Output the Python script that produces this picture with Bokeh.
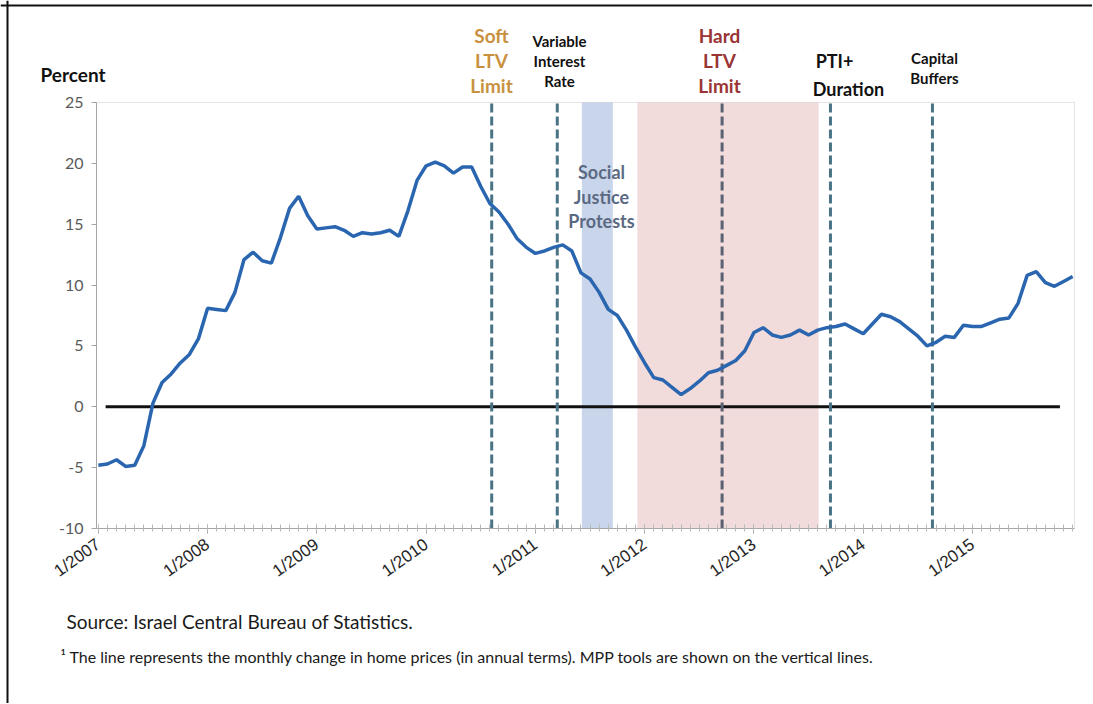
from bokeh.plotting import figure
from bokeh.models import FixedTicker, Range1d, Span, BoxAnnotation, Label
from bokeh.embed import file_html
from bokeh.resources import INLINE

# ---------------- data ----------------
months = [f"{m}/{y}" for y in range(2007, 2016) for m in range(1, 13)]

price_change = [
    -4.8, -4.7, -4.35, -4.9, -4.8, -3.2, 0.3, 2.0, 2.7, 3.6, 4.3, 5.6,
    8.1, 8.0, 7.9, 9.4, 12.1, 12.7, 12.0, 11.8, 13.9, 16.3, 17.3, 15.7,
    14.6, 14.7, 14.8, 14.5, 14.0, 14.3, 14.2, 14.3, 14.5, 14.0, 16.1, 18.6,
    19.8, 20.1, 19.8, 19.2, 19.7, 19.7, 18.1, 16.7, 16.0, 15.0, 13.8, 13.1,
    12.6, 12.8, 13.1, 13.3, 12.8, 11.0, 10.5, 9.4, 8.0, 7.5, 6.3, 4.9,
    3.6, 2.4, 2.2, 1.6, 1.0, 1.5, 2.1, 2.8, 3.0, 3.4, 3.8, 4.6,
    6.1, 6.5, 5.9, 5.7, 5.9, 6.3, 5.9, 6.3, 6.5, 6.6, 6.8, 6.4,
    6.0, 6.8, 7.6, 7.4, 7.0, 6.4, 5.8, 5.0, 5.3, 5.8, 5.7, 6.7,
    6.6, 6.6, 6.9, 7.2, 7.3, 8.5, 10.8, 11.1, 10.2, 9.9, 10.3, 10.7,
]

tick_labels = ["1/2007", "1/2008", "1/2009", "1/2010", "1/2011",
               "1/2012", "1/2013", "1/2014", "1/2015"]
y_ticks = [-10, -5, 0, 5, 10, 15, 20, 25]
y_tick_labels = ["-10", "-5", "0", "5", "10", "15", "20", "25"]

# MPP tool dates (month index, fractional) and highlighted periods
event_names = ["Soft LTV Limit", "Variable Interest Rate", "Hard LTV Limit",
               "PTI+ Duration", "Capital Buffers"]
event_month = [43.2, 50.4, 68.5, 80.4, 91.6]
protest_period = [53.1, 56.5]
hard_ltv_period = [59.2, 79.1]
zero_line_x = [0.8, 105.6]

x_idx = list(range(len(months)))
tick_idx = [months.index(t) for t in tick_labels]

# ---------------- geometry (page pixels of the plot area) ----------------
W, H = 1092, 703
X0, X1 = -0.2, 107.2          # data x at plot-area left / right
Y0, Y1 = -10, 25              # data y at plot-area bottom / top
PL, PR, PT, PB = 96, 1074, 102, 528
ux = (X1 - X0) / (PR - PL)
uy = (Y1 - Y0) / (PB - PT)

def dx(px):
    return X0 + (px - PL) * ux

def dy(py):
    return Y1 - (py - PT) * uy

p = figure(width=W, height=H, title=None,
           x_range=Range1d(dx(0), dx(W)), y_range=Range1d(dy(H), dy(0)),
           output_backend="svg", toolbar_location=None,
           min_border=0, min_border_left=0, min_border_right=0,
           min_border_top=0, min_border_bottom=0)
p.background_fill_color = "white"
p.border_fill_color = "white"
p.outline_line_color = None
p.xgrid.visible = False
p.ygrid.visible = False

# outer frame lines (left / top)
p.add_layout(Span(location=dx(7), dimension="height", line_color="#111111", line_width=2))
p.add_layout(Span(location=dy(5), dimension="width", line_color="#111111", line_width=2))

# bands
p.add_layout(BoxAnnotation(left=protest_period[0], right=protest_period[1],
                           bottom=Y0, top=Y1,
                           fill_color="#c9d5ea", fill_alpha=1.0, line_alpha=0,
                           level="underlay"))
p.add_layout(BoxAnnotation(left=hard_ltv_period[0], right=hard_ltv_period[1],
                           bottom=Y0, top=Y1,
                           fill_color="#f2dbdb", fill_alpha=1.0, line_alpha=0,
                           level="underlay"))
# plot-area outline
p.add_layout(BoxAnnotation(left=X0, right=X1, bottom=Y0, top=Y1,
                           fill_alpha=0, line_color="#a6a6a6", line_width=1,
                           level="underlay"))

# zero line
p.line(zero_line_x, [0, 0], line_color="#111111", line_width=3)

# vertical dashed lines
ev_colors = ["#4a7385", "#4a7385", "#586272", "#4a7385", "#4a7385"]
p.segment(x0=event_month, y0=[Y0] * 5, x1=event_month, y1=[Y1] * 5,
          line_color=ev_colors, line_width=3, line_dash="9 4")

# main line
p.line(x_idx, price_change, line_color="#2a65b0", line_width=3.5)

# axes (placed at the plot-area edges)
xa = p.xaxis[0]
xa.fixed_location = Y0
xa.bounds = (X0, X1)
xa.ticker = FixedTicker(ticks=tick_idx, minor_ticks=x_idx)
xa.major_label_overrides = {i: t for i, t in zip(tick_idx, tick_labels)}
xa.major_label_orientation = 0.62
xa.axis_line_color = "#a6a6a6"
xa.major_tick_line_color = "#a6a6a6"
xa.minor_tick_line_color = "#b8b8b8"
xa.major_tick_in = 4
xa.major_tick_out = 5
xa.minor_tick_in = 4
xa.minor_tick_out = 3
xa.major_label_text_font = "Liberation Sans"
xa.major_label_text_font_size = "17px"
xa.major_label_text_color = "#262626"
xa.major_label_standoff = 9

ya = p.yaxis[0]
ya.fixed_location = X0
ya.bounds = (Y0, Y1)
ya.ticker = FixedTicker(ticks=y_ticks)
ya.major_label_overrides = {v: s for v, s in zip(y_ticks, y_tick_labels)}
ya.axis_line_color = "#a6a6a6"
ya.major_tick_line_color = "#a6a6a6"
ya.major_tick_in = 0
ya.major_tick_out = 5
ya.minor_tick_line_color = None
ya.major_label_text_font = "Lato"
ya.major_label_text_font_size = "16px"
ya.major_label_text_color = "#595959"
ya.major_label_standoff = 8

# ---------------- texts (page pixels) ----------------
def add_text(txt, px, py, color="#111111", size="16px", bold=True, align="center"):
    p.add_layout(Label(x=px, y=py, x_units="canvas", y_units="canvas",
                       text=txt, text_color=color,
                       text_font="Lato", text_font_size=size,
                       text_font_style="bold" if bold else "normal",
                       text_align=align, text_baseline="middle"))

add_text("Percent", 40, 74, size="19px", align="left")

for t, py in zip(["Soft", "LTV", "Limit"], [35, 60, 85]):
    add_text(t, 491, py, color="#c9913f", size="19px")
for t, py in zip(["Variable", "Interest", "Rate"], [40, 60, 80]):
    add_text(t, 559, py, size="15px")
for t, py in zip(["Hard", "LTV", "Limit"], [35, 60, 85]):
    add_text(t, 719, py, color="#9a3535", size="19px")
add_text("PTI+", 834, 60, size="18px")
add_text("Duration", 848, 88, size="18px")
for t, py in zip(["Capital", "Buffers"], [57, 77]):
    add_text(t, 934, py, size="15px")
for t, py in zip(["Social", "Justice", "Protests"], [171, 196, 220]):
    add_text(t, 601, py, color="#5b6a82", size="18px")

add_text("Source: Israel Central Bureau of Statistics.", 66, 621,
         color="#1a1a1a", size="19px", bold=False, align="left")
add_text("\u00b9 The line represents the monthly change in home prices (in annual terms). MPP tools are shown on the vertical lines.",
         60, 656, color="#1a1a1a", size="16px", bold=False, align="left")

open("out.html", "w").write(file_html(p, INLINE))
